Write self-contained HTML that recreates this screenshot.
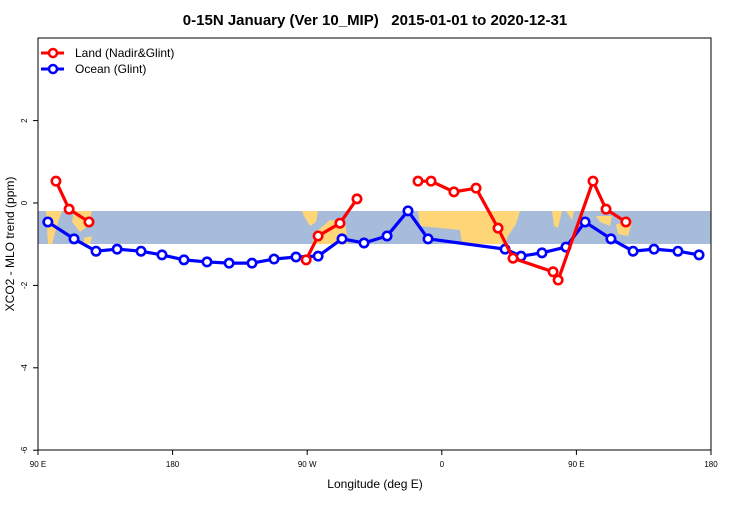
<!DOCTYPE html>
<html><head><meta charset="utf-8"><style>
body{margin:0;background:#fff;font-family:"Liberation Sans",sans-serif}
svg text{font-family:"Liberation Sans",sans-serif}
</style></head><body>
<svg id="chart" width="750" height="500" xmlns="http://www.w3.org/2000/svg">
<rect width="750" height="500" fill="#fff"/>
<text x="375" y="25" text-anchor="middle" font-size="15" font-weight="bold">0-15N January (Ver 10_MIP)&#160;&#160; 2015-01-01 to 2020-12-31</text>
<g id="map">
<rect x="38" y="211" width="673" height="33" fill="#a7bcdb"/>
<g fill="#fed678">
<path d="M46,211 L62,211 L58,222 L52,244 L48,244 Z"/>
<path d="M74,211 L92,211 L88,226 L80,232 L72,222 Z"/>
<path d="M84,238 L92,236 L90,244 L84,244 Z"/>
<path d="M302,211 L318,211 L316,222 L310,226 L304,216 Z"/>
<path d="M316,232 L330,220 L345,222 L348,244 L312,244 Z"/>
<path d="M418,211 L520,211 L516,224 L508,236 L505,244 L462,244 L460,230 L440,228 L420,226 Z"/>
<path d="M552,211 L562,211 L558,228 L554,226 Z"/>
<path d="M566,211 L574,211 L572,220 Z"/>
<path d="M596,216 L612,216 L610,226 L600,222 Z"/>
<path d="M616,224 L632,222 L628,236 L618,234 Z"/>
</g>
</g>
<rect x="38" y="38" width="673" height="412" fill="none" stroke="#000" stroke-width="1"/>
<g id="axes"></g>
<g id="series"></g>
<text x="375" y="488" text-anchor="middle" font-size="12">Longitude (deg E)</text>
<text transform="translate(14,244) rotate(-90)" text-anchor="middle" font-size="12">XCO2 - MLO trend (ppm)</text>
<g>
<line x1="41" y1="53" x2="64" y2="53" stroke="#f00" stroke-width="3"/>
<circle cx="53" cy="53" r="4" fill="#fff" stroke="#f00" stroke-width="2.5"/>
<text x="75" y="57" font-size="12">Land (Nadir&amp;Glint)</text>
<line x1="41" y1="69" x2="64" y2="69" stroke="#00f" stroke-width="3"/>
<circle cx="53" cy="69" r="4" fill="#fff" stroke="#00f" stroke-width="2.5"/>
<text x="75" y="73" font-size="12">Ocean (Glint)</text>
</g>
</svg>
<script>
const xTickVals=[90,180,270,360,450,540];
const xTickLabels=["90 E","180","90 W","0","90 E","180"];
const yTickVals=[2,0,-2,-4,-6];
const oceanLon=[96.6,114.1,128.8,142.9,158.9,172.9,187.6,203,217.8,233.1,247.8,262.5,277.3,293.3,308,323.4,337.4,350.8,402.3,413,427,443,455.8,473.1,487.9,501.9,517.9,532];
const oceanVal=[-0.46,-0.87,-1.17,-1.12,-1.17,-1.26,-1.38,-1.43,-1.46,-1.46,-1.36,-1.31,-1.29,-0.87,-0.97,-0.8,-0.19,-0.87,-1.12,-1.29,-1.21,-1.07,-0.46,-0.87,-1.17,-1.12,-1.17,-1.26];
const land1Lon=[102,110.8,124.1];
const land1Val=[0.53,-0.15,-0.46];
const land2Lon=[269.3,277.3,291.9,303.3];
const land2Val=[-1.38,-0.8,-0.49,0.1];
const land3Lon=[344.1,352.8,368.1,382.9,397.6,407.6,434.4,437.8,461.1,469.8,483.1];
const land3Val=[0.53,0.53,0.27,0.36,-0.61,-1.34,-1.67,-1.87,0.53,-0.15,-0.46];
const NS="http://www.w3.org/2000/svg";
const xs=v=>38+(v-90)*673/450;
const ys=v=>203-v*41.2;
const axes=document.getElementById('axes'),ser=document.getElementById('series');
function mk(t,a,p){const e=document.createElementNS(NS,t);for(const k in a)e.setAttribute(k,a[k]);p.appendChild(e);return e;}
xTickVals.forEach((v,i)=>{
 const l=mk('line',{x1:xs(v),x2:xs(v),y1:450,y2:455,stroke:'#000'},axes);
 
 
 const t=mk('text',{x:xs(v),y:467,'text-anchor':'middle','font-size':8},axes);
 t.textContent=xTickLabels[i];
 
 
});
yTickVals.forEach(v=>{
 const l=mk('line',{x1:33,x2:38,y1:ys(v),y2:ys(v),stroke:'#000'},axes);
 
 
 const t=mk('text',{transform:`translate(27,${ys(v)}) rotate(-90)`,'text-anchor':'middle','font-size':8},axes);
 t.textContent=String(v);
 
 
});
function series(lon,val,col,name){
 const pl=mk('polyline',{points:lon.map((x,i)=>xs(x)+','+ys(val[i])).join(' '),fill:'none',stroke:col,'stroke-width':3.2,'stroke-linejoin':'round'},ser);
 
 
 lon.forEach((x,i)=>{
  const c=mk('circle',{cx:xs(x),cy:ys(val[i]),r:4.2,fill:'#fff',stroke:col,'stroke-width':2.6},ser);
  
  
 });
}
series(oceanLon,oceanVal,'#00f','ocean');
series(land1Lon,land1Val,'#f00','land');
series(land2Lon,land2Val,'#f00','land');
series(land3Lon,land3Val,'#f00','land');
</script>
</body></html>
